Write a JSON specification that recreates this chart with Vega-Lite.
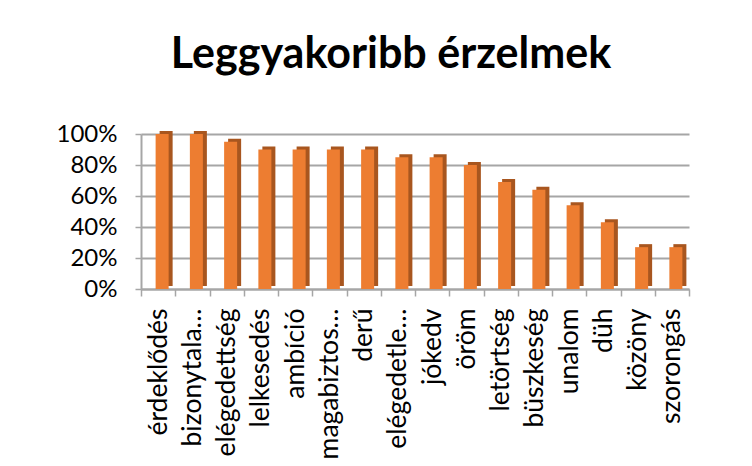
{
  "$schema": "https://vega.github.io/schema/vega-lite/v6.json",
  "autosize": "none",
  "width": 548,
  "height": 155,
  "padding": {"left": 141, "top": 134, "right": 63, "bottom": 177},
  "background": "white",
  "title": {
    "text": "Leggyakoribb érzelmek",
    "font": "Lato",
    "fontSize": 43,
    "fontWeight": "bold",
    "color": "#000000",
    "anchor": "middle",
    "baseline": "alphabetic",
    "dx": -24,
    "offset": 11
  },
  "data": {
    "values": [
      {"erzelem": "érdeklődés", "arany": 1.00},
      {"erzelem": "bizonytalanság", "arany": 1.00},
      {"erzelem": "elégedettség", "arany": 0.95},
      {"erzelem": "lelkesedés", "arany": 0.90},
      {"erzelem": "ambíció", "arany": 0.90},
      {"erzelem": "magabiztosság", "arany": 0.90},
      {"erzelem": "derű", "arany": 0.90},
      {"erzelem": "elégedetlenség", "arany": 0.85},
      {"erzelem": "jókedv", "arany": 0.85},
      {"erzelem": "öröm", "arany": 0.80},
      {"erzelem": "letörtség", "arany": 0.69},
      {"erzelem": "büszkeség", "arany": 0.64},
      {"erzelem": "unalom", "arany": 0.54},
      {"erzelem": "düh", "arany": 0.43},
      {"erzelem": "közöny", "arany": 0.27},
      {"erzelem": "szorongás", "arany": 0.27}
    ]
  },
  "encoding": {
    "x": {
      "field": "erzelem",
      "type": "nominal",
      "sort": null,
      "title": null,
      "scale": {"paddingInner": 0, "paddingOuter": 0},
      "axis": {
        "labelAngle": -90,
        "labelAlign": "right",
        "labelBaseline": "middle",
        "labelFont": "Lato",
        "labelFontSize": 26.5,
        "labelColor": "#000000",
        "labelLimit": 152,
        "labelPadding": 12,
        "tickBand": "extent",
        "tickColor": "#a6a6a6",
        "tickWidth": 1.5,
        "tickSize": 7,
        "domainColor": "#a6a6a6",
        "domainWidth": 2,
        "grid": false
      }
    },
    "y": {
      "field": "arany",
      "type": "quantitative",
      "title": null,
      "scale": {"domain": [0, 1], "nice": false},
      "axis": {
        "format": ".0%",
        "values": [0, 0.2, 0.4, 0.6, 0.8, 1],
        "labelFont": "Lato",
        "labelFontSize": 24,
        "labelColor": "#000000",
        "labelPadding": 18,
        "tickColor": "#a6a6a6",
        "tickWidth": 1.5,
        "tickSize": 6,
        "domainColor": "#a6a6a6",
        "domainWidth": 2,
        "gridColor": "#a6a6a6",
        "gridWidth": 2
      }
    }
  },
  "layer": [
    {
      "mark": {"type": "bar", "color": "#A8561F", "width": {"band": 0.38}, "xOffset": 8, "yOffset": -3}
    },
    {
      "mark": {"type": "bar", "color": "#ED7D31", "width": {"band": 0.38}, "xOffset": 4}
    }
  ],
  "config": {"view": {"stroke": null}}
}
